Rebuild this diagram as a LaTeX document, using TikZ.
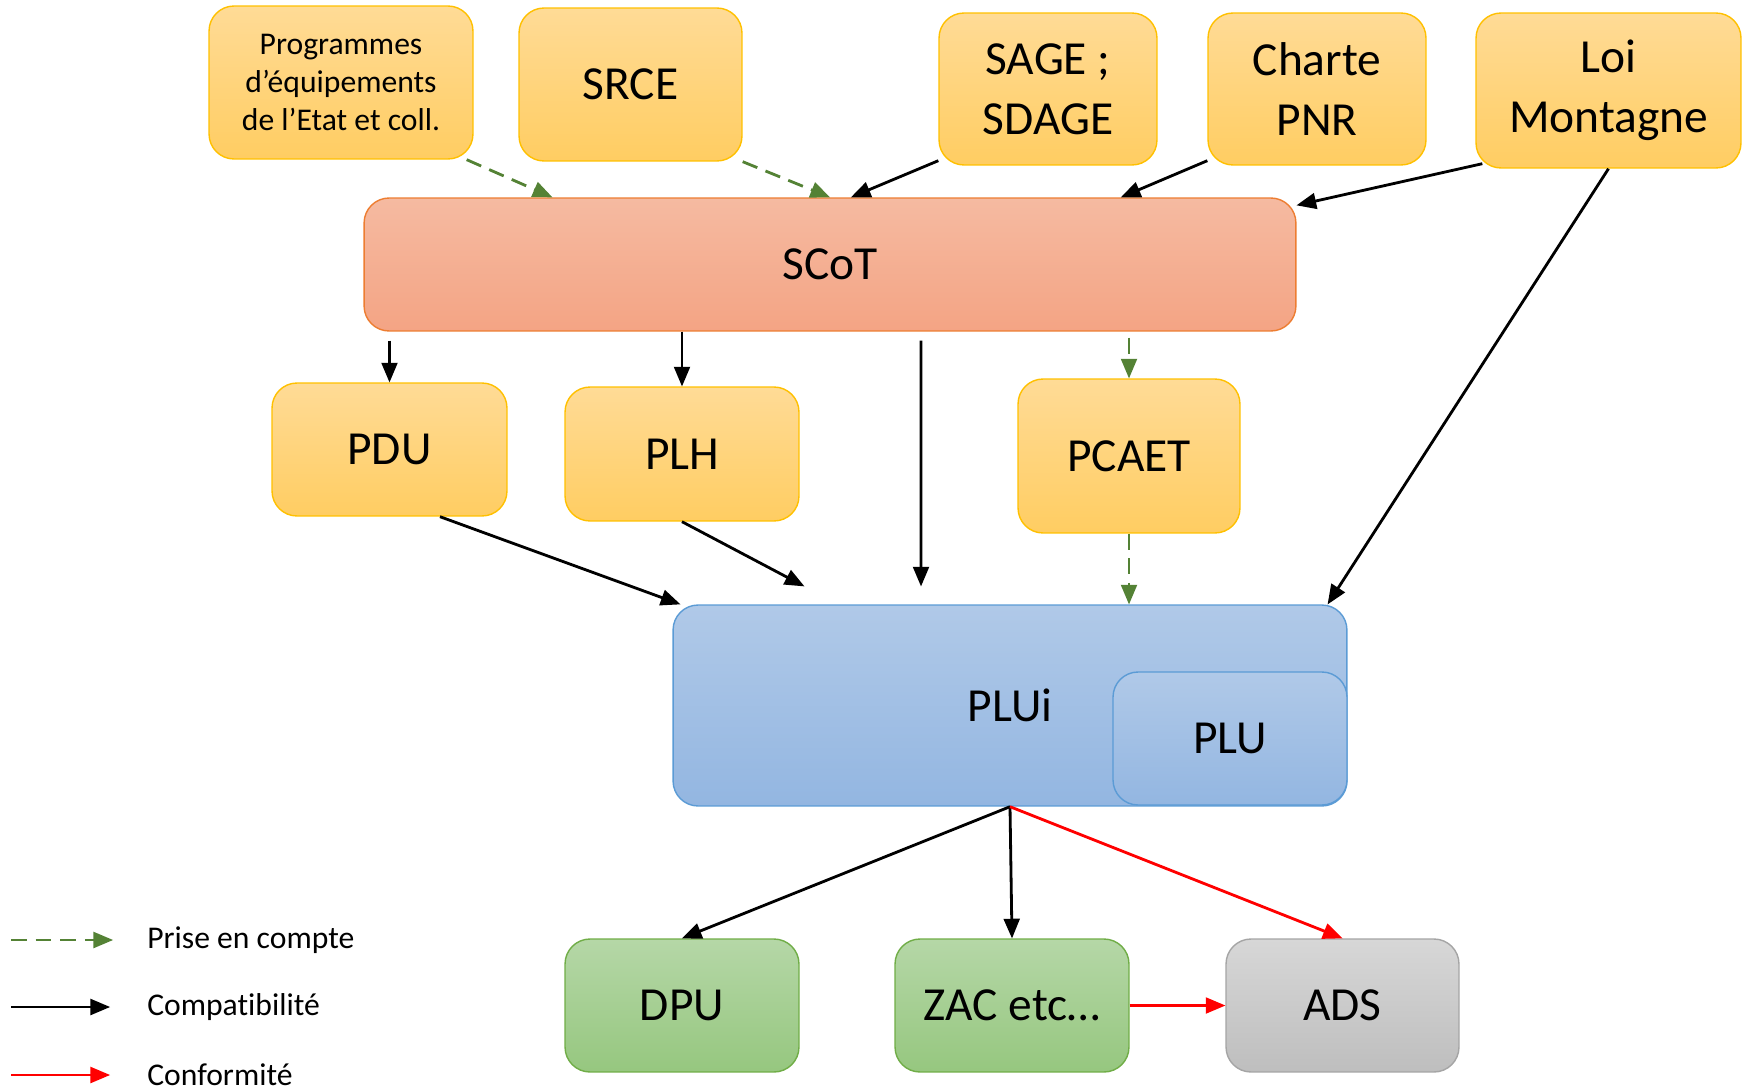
\documentclass[tikz,border=0pt]{standalone}
\usepackage{fontspec}
\setmainfont{Carlito}[Ligatures=NoCommon]
\usepackage{tikz}
\usetikzlibrary{shapes,arrows}

\begin{document}
\begin{tikzpicture}[x=0.02cm,y=-0.02cm,
  box/.style={draw,rounded corners=0.5cm,inner sep=0pt,align=center,line width=0.8pt,font=\fontsize{27}{34}\selectfont},
  goldbox/.style={box,draw=goldLine,top color=goldTop,bottom color=goldBottom},
  scotbox/.style={box,draw=scotLine,top color=scotTop,bottom color=scotBottom},
  pluibox/.style={box,draw=pluiLine,top color=pluiTop,bottom color=pluiBottom},
  greenbox/.style={box,draw=greenLine,top color=greenTop,bottom color=greenBottom},
  greybox/.style={box,draw=greyLine,top color=greyTop,bottom color=greyBottom},
  compat/.style={->,>=triangle 45,line width=1.6pt,color=black},
  prise/.style={compat,color=priseColor,dash pattern=on 9pt off 5pt},
  conform/.style={compat,color=red},
  legend/.style={anchor=west,inner sep=0pt,font=\fontsize{18}{22}\selectfont}]
\useasboundingbox (0,0) rectangle (1744,1088);
\definecolor{goldLine}{RGB}{255,192,0}
\definecolor{goldTop}{RGB}{255,219,150}
\definecolor{goldBottom}{RGB}{255,205,98}
\definecolor{scotLine}{RGB}{237,125,49}
\definecolor{scotTop}{RGB}{245,186,161}
\definecolor{scotBottom}{RGB}{244,164,132}
\definecolor{pluiLine}{RGB}{91,155,213}
\definecolor{pluiTop}{RGB}{176,201,232}
\definecolor{pluiBottom}{RGB}{147,182,225}
\definecolor{greenLine}{RGB}{112,173,71}
\definecolor{greenTop}{RGB}{181,215,167}
\definecolor{greenBottom}{RGB}{150,199,127}
\definecolor{greyLine}{RGB}{165,165,165}
\definecolor{greyTop}{RGB}{215,215,215}
\definecolor{greyBottom}{RGB}{190,190,190}
\definecolor{priseColor}{RGB}{84,130,53}
% sources en haut
\node[goldbox,minimum width=5.28cm,minimum height=3.06cm,font=\fontsize{18}{21.6}\selectfont] (prog) at (341,82.5) {Programmes\\d'équipements\\de l'Etat et coll.};
\node[goldbox,minimum width=4.46cm,minimum height=3.06cm] (srce) at (630.5,84.5) {SRCE};
\node[goldbox,minimum width=4.36cm,minimum height=3.04cm] (sage) at (1048,89) {SAGE ;\\SDAGE};
\node[goldbox,minimum width=4.36cm,minimum height=3.04cm] (charte) at (1317,89) {Charte\\PNR};
\node[goldbox,minimum width=5.3cm,minimum height=3.1cm] (loi) at (1608.5,90.5) {Loi\\Montagne};
% SCoT
\node[scotbox,minimum width=18.64cm,minimum height=2.66cm] (scot) at (830,264.5) {SCoT};
% niveau intermediaire
\node[goldbox,minimum width=4.7cm,minimum height=2.66cm] (pdu) at (389.5,449.5) {PDU};
\node[goldbox,minimum width=4.68cm,minimum height=2.68cm] (plh) at (682,454) {PLH};
\node[goldbox,minimum width=4.44cm,minimum height=3.08cm] (pcaet) at (1129,456) {PCAET};
% PLUi / PLU
\node[pluibox,minimum width=13.48cm,minimum height=4.02cm] (plui) at (1010,705.5) {PLUi};
\node[pluibox,minimum width=4.68cm,minimum height=2.66cm] (plu) at (1230,738.5) {PLU};
% en bas
\node[greenbox,minimum width=4.68cm,minimum height=2.66cm] (dpu) at (682,1005.5) {DPU};
\node[greenbox,minimum width=4.68cm,minimum height=2.66cm] (zac) at (1012,1005.5) {ZAC etc\ldots};
\node[greybox,minimum width=4.66cm,minimum height=2.66cm] (ads) at (1342.5,1005.5) {ADS};
% liens vers le SCoT
\draw[prise] ([xshift=-0.14cm]prog.south east) -- ([xshift=3.78cm]scot.north west);
\draw[prise] (srce.south east) -- (scot.north);
\draw[compat] ([yshift=0.1cm]sage.south west) -- ([xshift=0.42cm]scot.north);
\draw[compat] ([yshift=0.1cm]charte.south west) -- ([xshift=5.82cm]scot.north);
\draw[compat] ([xshift=0.14cm,yshift=0.1cm]loi.south west) -- ([yshift=-0.16cm]scot.north east);
\draw[compat] (loi.south) -- ([xshift=-0.4cm]plui.north east);
% liens depuis le SCoT
\draw[compat,shorten <=0.18cm] (pdu.north |- scot.south) -- (pdu.north);
\draw[compat] (plh.north |- scot.south) -- (plh.north);
\draw[compat,shorten <=0.18cm,shorten >=0.36cm] ([xshift=1.82cm]scot.south) -- ([xshift=-1.78cm]plui.north);
\draw[prise,shorten <=0.12cm] (pcaet.north |- scot.south) -- (pcaet.north);
% liens vers le PLUi
\draw[prise] (pcaet.south) -- (pcaet.south |- plui.north);
\draw[compat] ([xshift=1.01cm]pdu.south) -- ([xshift=0.16cm]plui.north west);
\draw[compat] (plh.south) -- ([xshift=2.64cm,yshift=0.36cm]plui.north west);
% liens depuis le PLUi
\draw[compat] (plui.south) -- (dpu.north);
\draw[compat] (plui.south) -- (zac.north);
\draw[conform] (plui.south) -- (ads.north);
\draw[conform] (zac.east) -- (ads.west);
% legende
\coordinate (priseA) at (11,940);
\coordinate (priseB) at (113,940);
\coordinate (compatA) at (11,1007);
\coordinate (compatB) at (110,1007);
\coordinate (conformA) at (11,1075);
\coordinate (conformB) at (110,1075);
\node[legend] (priseTxt) at (147,940) {Prise en compte};
\node[legend] (compatTxt) at (147,1007) {Compatibilité};
\node[legend] (conformTxt) at (147,1075) {Conformité};
\draw[prise] (priseA) -- (priseB);
\draw[compat] (compatA) -- (compatB);
\draw[conform] (conformA) -- (conformB);
\end{tikzpicture}
\end{document}
